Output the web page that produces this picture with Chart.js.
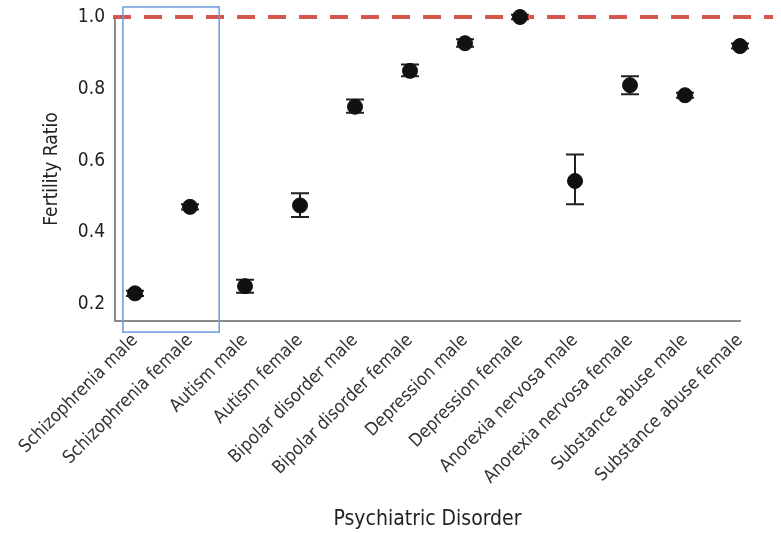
<!DOCTYPE html>
<html>
<head>
<meta charset="utf-8">
<script src="https://cdn.jsdelivr.net/npm/chart.js@4.4.1/dist/chart.umd.min.js"></script>
<style>
  html, body { margin: 0; padding: 0; background: #fff; }
  #wrap { width: 781px; height: 533px; position: relative; }
</style>
</head>
<body>
<div id="wrap"><canvas id="c" width="781" height="533"></canvas></div>
<script>
// Disorder groups (x axis)
const categories = [
  'Schizophrenia male', 'Schizophrenia female', 'Autism male', 'Autism female',
  'Bipolar disorder male', 'Bipolar disorder female', 'Depression male', 'Depression female',
  'Anorexia nervosa male', 'Anorexia nervosa female', 'Substance abuse male', 'Substance abuse female'
];
// Fertility ratio estimates with 95% interval bounds
const fertilityRatio = [0.23, 0.471, 0.25, 0.475, 0.75, 0.85, 0.927, 1.0, 0.543, 0.81, 0.782, 0.919];
const lowerBound     = [0.223, 0.464, 0.232, 0.443, 0.733, 0.835, 0.917, 0.994, 0.478, 0.785, 0.775, 0.912];
const upperBound     = [0.237, 0.478, 0.268, 0.509, 0.770, 0.868, 0.938, 1.006, 0.617, 0.835, 0.789, 0.926];
const yTicks = [0.2, 0.4, 0.6, 0.8, 1.0];
const referenceRatio = 1.0;
// Highlighted group: indices covered by the outlined box, and its vertical extent
const highlightRange = [-0.22, 1.53];
const highlightSpan = [0.122, 1.028];

const FONT = "'Liberation Sans Narrow', 'Arial Narrow', 'DejaVu Sans Condensed', sans-serif";
const AXIS_GREY = '#8a8a8a';

const points = categories.map((_, i) => ({ x: i, y: fertilityRatio[i] }));
const refLine = [{ x: -0.4, y: referenceRatio }, { x: 11.6, y: referenceRatio }];

// Whiskers with end caps, drawn beneath the markers
const errorBars = {
  id: 'errorBars',
  beforeDatasetsDraw(chart) {
    const { ctx, scales: { x, y } } = chart;
    ctx.save();
    ctx.strokeStyle = '#222';
    ctx.lineWidth = 2;
    categories.forEach((_, i) => {
      const px = x.getPixelForValue(i);
      const top = y.getPixelForValue(upperBound[i]);
      const bot = y.getPixelForValue(lowerBound[i]);
      ctx.beginPath();
      ctx.moveTo(px, top); ctx.lineTo(px, bot);
      ctx.moveTo(px - 9, top); ctx.lineTo(px + 9, top);
      ctx.moveTo(px - 9, bot); ctx.lineTo(px + 9, bot);
      ctx.stroke();
    });
    ctx.restore();
  }
};

// Outline around the schizophrenia pair
const highlightBox = {
  id: 'highlightBox',
  afterDatasetsDraw(chart) {
    const { ctx, scales: { x, y } } = chart;
    const x0 = x.getPixelForValue(highlightRange[0]);
    const x1 = x.getPixelForValue(highlightRange[1]);
    const y0 = y.getPixelForValue(highlightSpan[1]);
    const y1 = y.getPixelForValue(highlightSpan[0]);
    ctx.save();
    ctx.strokeStyle = '#6a9be0';
    ctx.lineWidth = 1.5;
    ctx.strokeRect(x0, y0, x1 - x0, y1 - y0);
    ctx.restore();
  }
};

new Chart(document.getElementById('c'), {
  type: 'scatter',
  data: {
    datasets: [
      {
        type: 'line',
        data: refLine,
        borderColor: '#d4574e',
        borderWidth: 4,
        borderDash: [18, 13],
        pointRadius: 0,
        clip: false,
        order: 2
      },
      {
        data: points,
        backgroundColor: '#111',
        borderColor: '#111',
        pointRadius: 7.5,
        pointHoverRadius: 7.5,
        clip: false,
        order: 1
      }
    ]
  },
  options: {
    responsive: false,
    animation: false,
    events: [],
    layout: { padding: { top: 17, right: 41, left: 41, bottom: 1 } },
    plugins: { legend: { display: false }, tooltip: { enabled: false } },
    scales: {
      x: {
        type: 'linear',
        min: -0.364,
        max: 11,
        afterBuildTicks(axis) { axis.ticks = categories.map((_, i) => ({ value: i })); },
        afterFit(axis) { axis.height = 533 - 321 - 1; },
        grid: { display: false, drawTicks: true, tickLength: 6, tickColor: AXIS_GREY, tickWidth: 1.5 },
        border: { display: true, color: AXIS_GREY, width: 2 },
        ticks: {
          autoSkip: false,
          minRotation: 45,
          maxRotation: 45,
          padding: 3,
          color: '#333',
          font: { family: FONT, size: 18 },
          callback: (v) => categories[v]
        },
        title: {
          display: true,
          text: 'Psychiatric Disorder',
          color: '#222',
          font: { family: FONT, size: 21 },
          padding: { top: 0, bottom: 0 }
        }
      },
      y: {
        min: 0.153,
        max: 1.0,
        afterBuildTicks(axis) { axis.ticks = yTicks.map(v => ({ value: v })); },
        afterFit(axis) { axis.width = 115 - 41; },
        grid: { display: false, drawTicks: true, tickLength: 6, tickColor: AXIS_GREY, tickWidth: 1.5 },
        border: { display: true, color: AXIS_GREY, width: 2 },
        ticks: {
          color: '#222',
          padding: 4,
          font: { family: FONT, size: 19 },
          callback: (v) => v.toFixed(1)
        },
        title: {
          display: true,
          text: 'Fertility Ratio',
          color: '#222',
          font: { family: FONT, size: 19 },
          padding: { top: 0, bottom: 0 }
        }
      }
    }
  },
  plugins: [errorBars, highlightBox]
});
</script>
</body>
</html>
